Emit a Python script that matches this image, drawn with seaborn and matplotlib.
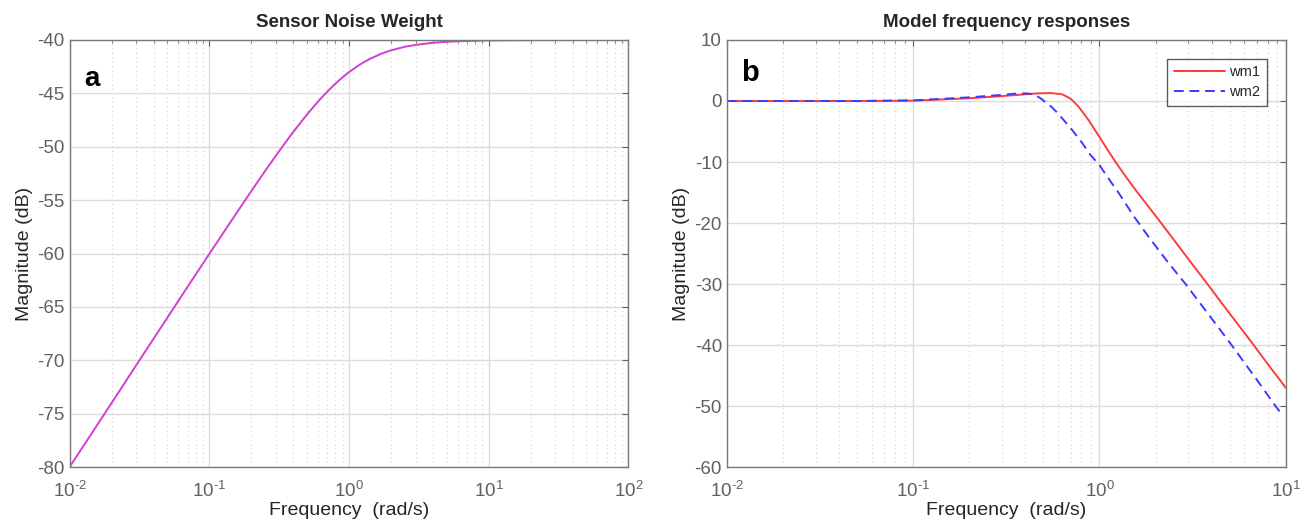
import math
import seaborn as sns
import pandas as pd
import matplotlib.pyplot as plt
from matplotlib.ticker import LogLocator, MultipleLocator, NullFormatter, FuncFormatter

# panel a : sensor noise weight
freq_a = [0.01, 0.02, 0.03, 0.05, 0.07, 0.1, 0.15, 0.2, 0.25, 0.3, 0.35, 0.4, 0.45, 0.5,
          0.6, 0.7, 0.8, 0.9, 1.0, 1.2, 1.4, 1.7, 2.0, 2.5, 3.0, 4.0, 5.0, 7.0, 10.0,
          20.0, 100.0]
mag_a = [-80.0, -74.0, -70.46, -66.03, -63.11, -60.04, -56.58, -54.15, -52.3, -50.83,
         -49.62, -48.6, -47.74, -46.99, -45.77, -44.83, -44.09, -43.49, -43.01, -42.29,
         -41.79, -41.29, -40.97, -40.64, -40.46, -40.26, -40.17, -40.09, -40.04, -40.01,
         -40.0]

# panel b : model frequency responses
freq_wm1 = [0.01, 0.05, 0.1, 0.2, 0.3, 0.4, 0.47, 0.55, 0.63, 0.68, 0.713, 0.776, 0.877,
            1.0, 1.1, 1.22, 1.4, 1.6, 1.8, 2.0, 2.5, 3.0, 3.8, 4.5, 5.5, 6.5, 8.0, 10.0]
mag_wm1 = [0.0, 0.0, 0.05, 0.45, 0.8, 1.1, 1.25, 1.3, 1.1, 0.6, 0.16, -1.0, -3.2,
           -5.9, -7.9, -10.0, -12.6, -15.0, -17.0, -18.8, -22.7, -25.9, -30.0, -33.0,
           -36.5, -39.4, -43.1, -47.0]
freq_wm2 = [0.01, 0.05, 0.1, 0.2, 0.3, 0.35, 0.4, 0.42, 0.45, 0.48, 0.504, 0.55, 0.593,
            0.65, 0.713, 0.8, 0.895, 1.0, 1.1, 1.27, 1.53, 1.84, 2.3, 2.9, 3.5, 4.2, 5.12,
            6.0, 7.0, 8.0, 8.81, 9.6]
mag_wm2 = [0.0, 0.0, 0.1, 0.6, 1.0, 1.2, 1.25, 1.2, 1.0, 0.5, 0.0, -0.9, -1.9, -3.3,
           -4.75, -6.7, -8.85, -10.5, -12.4, -15.1, -18.9, -22.3, -26.2, -30.0, -33.3,
           -36.5, -40.0, -42.9, -45.7, -48.2, -50.0, -51.5]

df_a = pd.DataFrame({'f': freq_a, 'mag': mag_a})
df_1 = pd.DataFrame({'f': freq_wm1, 'mag': mag_wm1})
df_2 = pd.DataFrame({'f': freq_wm2, 'mag': mag_wm2})

sns.set_theme(style='white')
plt.rcParams['font.family'] = ['Liberation Sans', 'DejaVu Sans']
plt.rcParams['axes.unicode_minus'] = False
plt.rcParams['mathtext.fontset'] = 'custom'
plt.rcParams['mathtext.rm'] = 'Liberation Sans'
plt.rcParams['mathtext.it'] = 'Liberation Sans'


def dec_label(x, pos):
    # matlab style 10^-2 with a plain hyphen
    e = int(round(math.log10(x)))
    if e < 0:
        return r'$10^{\text{-}%d}$' % (-e)
    return r'$10^{%d}$' % e


fig = plt.figure(figsize=(13.12, 5.26), dpi=100)
ax1 = fig.add_axes([0.053, 0.112, 0.426, 0.812])
ax2 = fig.add_axes([0.554, 0.112, 0.426, 0.812])

sns.lineplot(data=df_a, x='f', y='mag', ax=ax1, color='#d23fd2', linewidth=1.4,
             estimator=None, sort=False)
sns.lineplot(data=df_1, x='f', y='mag', ax=ax2, color='#ff3b3b', linewidth=1.4,
             estimator=None, sort=False, label='wm1')
sns.lineplot(data=df_2, x='f', y='mag', ax=ax2, color='#3b3bff', linewidth=1.4,
             estimator=None, sort=False, label='wm2', linestyle=(0, (5, 3)))

grey = '#606060'
for ax in (ax1, ax2):
    ax.set_xscale('log')
    ax.xaxis.set_major_locator(LogLocator(base=10, numticks=10))
    ax.xaxis.set_major_formatter(FuncFormatter(dec_label))
    ax.xaxis.set_minor_locator(LogLocator(base=10, subs=range(2, 10), numticks=20))
    ax.xaxis.set_minor_formatter(NullFormatter())
    ax.grid(True, which='major', color='#dcdcdc', linewidth=1.0, linestyle='-')
    ax.grid(True, which='minor', axis='x', color='#d0d0d0', linewidth=0.8, linestyle=(0, (1, 3)))
    ax.set_axisbelow(True)
    ax.tick_params(which='both', direction='in', top=True, right=True, colors=grey,
                   labelsize=13.5, labelcolor=grey)
    ax.tick_params(axis='x', which='major', pad=10)
    ax.tick_params(which='major', length=4, width=0.8)
    ax.tick_params(which='minor', length=2.5, width=0.6)
    for s in ax.spines.values():
        s.set_color('#7a7a7a')
        s.set_linewidth(1.0)
    ax.set_xlabel('Frequency  (rad/s)', fontsize=14, color='#262626', labelpad=1)
    ax.set_ylabel('Magnitude (dB)', fontsize=14, color='#262626', labelpad=3)

ax1.set_xlim(0.01, 100)
ax1.set_ylim(-80, -40)
ax1.yaxis.set_major_locator(MultipleLocator(5))
ax1.set_title('Sensor Noise Weight', fontsize=13.5, fontweight='bold', pad=9)
ax1.text(0.027, 0.94, 'a', transform=ax1.transAxes, fontsize=20, fontweight='bold',
         va='top', ha='left', color='black')

ax2.set_xlim(0.01, 10)
ax2.set_ylim(-60, 10)
ax2.yaxis.set_major_locator(MultipleLocator(10))
ax2.set_title('Model frequency responses', fontsize=13.5, fontweight='bold', pad=9)
ax2.text(0.025, 0.955, 'b', transform=ax2.transAxes, fontsize=21, fontweight='bold',
         va='top', ha='left', color='black')
leg = ax2.legend(loc='upper right', fontsize=10.5, frameon=True, fancybox=False,
                 handlelength=3.5, handletextpad=0.3, borderaxespad=1.3,
                 labelspacing=0.4, borderpad=0.45)
leg.get_frame().set_edgecolor('#333333')
leg.get_frame().set_linewidth(1.0)

plt.savefig('out.png', dpi=100)
